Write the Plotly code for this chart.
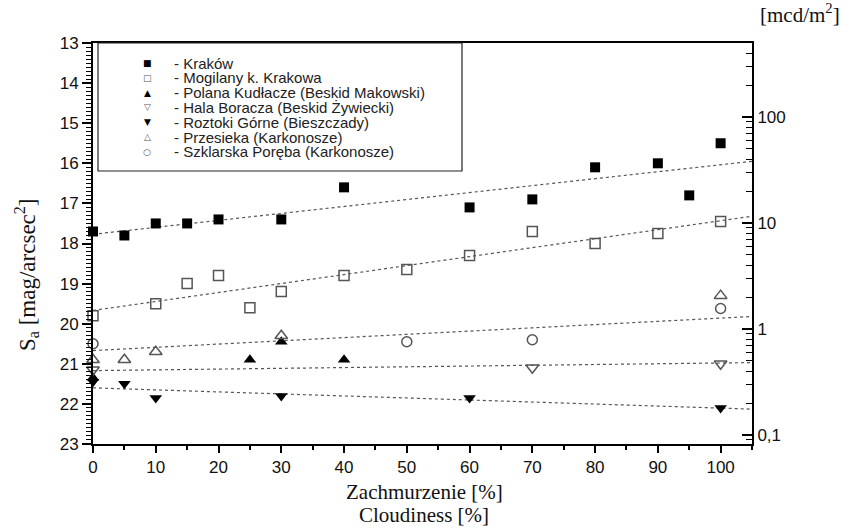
import plotly.graph_objects as go

# ---------------- data ----------------
krakow_x = [0, 5, 10, 15, 20, 30, 40, 60, 70, 80, 90, 95, 100]
krakow_y = [17.7, 17.8, 17.5, 17.5, 17.4, 17.4, 16.6, 17.1, 16.9, 16.1, 16.0, 16.8, 15.5]

mogilany_x = [0, 10, 15, 20, 25, 30, 40, 50, 60, 70, 80, 90, 100]
mogilany_y = [19.8, 19.5, 19.0, 18.8, 19.6, 19.2, 18.8, 18.65, 18.3, 17.7, 18.0, 17.75, 17.45]

polana_x = [0, 25, 30, 40]
polana_y = [21.35, 20.9, 20.45, 20.9]

hala_x = [0, 70, 100]
hala_y = [21.15, 21.1, 21.0]

roztoki_x = [0, 5, 10, 30, 60, 100]
roztoki_y = [21.45, 21.5, 21.85, 21.8, 21.85, 22.1]

przesieka_x = [0, 5, 10, 30, 100]
przesieka_y = [20.9, 20.9, 20.7, 20.3, 19.3]

szklarska_x = [0, 50, 70, 100]
szklarska_y = [20.5, 20.45, 20.4, 19.62]

# dotted trend lines: value at x = 0 and at x = 105
trend_x = [0, 105]
trend_krakow = [17.77, 15.95]
trend_mogilany = [19.67, 17.32]
trend_karkonosze = [20.67, 19.82]
trend_hala = [21.17, 20.97]
trend_roztoki = [21.6, 22.13]

legend_labels = [
    "- Kraków",
    "- Mogilany k. Krakowa",
    "- Polana Kudłacze (Beskid Makowski)",
    "- Hala Boracza (Beskid Żywiecki)",
    "- Roztoki Górne (Bieszczady)",
    "- Przesieka (Karkonosze)",
    "- Szklarska Poręba (Karkonosze)",
]
legend_glyphs = ["■", "□", "▲", "▽", "▼", "△", "○"]
legend_glyph_colors = ["#000", "#555", "#000", "#555", "#000", "#555", "#555"]

x_ticks = [0, 10, 20, 30, 40, 50, 60, 70, 80, 90, 100]
y_ticks = [13, 14, 15, 16, 17, 18, 19, 20, 21, 22, 23]
y2_ticks = [0.1, 1, 10, 100]
y2_ticktext = ["0,1", "1", "10", "100"]

# ---------------- figure ----------------
W, H = 846, 531
ML, MR, MT, MB = 93, 94, 43, 87
PW, PH = W - ML - MR, H - MT - MB

fig = go.Figure()

TREND = dict(color="#555", width=1.2, dash="dot")
for ty in [trend_krakow, trend_mogilany, trend_karkonosze, trend_hala, trend_roztoki]:
    fig.add_trace(go.Scatter(x=trend_x, y=ty, mode="lines", line=TREND,
                             showlegend=False, hoverinfo="skip"))

OPEN = "#555"
series = [
    (krakow_x, krakow_y, dict(symbol="square", size=10, color="#000",
                              line=dict(color="#000", width=0))),
    (mogilany_x, mogilany_y, dict(symbol="square-open", size=10, color=OPEN,
                                  line=dict(color=OPEN, width=1.5))),
    (polana_x, polana_y, dict(symbol="triangle-up", size=11, color="#000",
                              line=dict(width=0))),
    (hala_x, hala_y, dict(symbol="triangle-down-open", size=11, color=OPEN,
                          line=dict(color=OPEN, width=1.5))),
    (roztoki_x, roztoki_y, dict(symbol="triangle-down", size=11, color="#000",
                                line=dict(width=0))),
    (przesieka_x, przesieka_y, dict(symbol="triangle-up-open", size=11, color=OPEN,
                                    line=dict(color=OPEN, width=1.5))),
    (szklarska_x, szklarska_y, dict(symbol="circle-open", size=10, color=OPEN,
                                    line=dict(color=OPEN, width=1.5))),
]
for sx, sy, mk in series:
    fig.add_trace(go.Scatter(x=sx, y=sy, mode="markers", marker=mk,
                             showlegend=False, cliponaxis=False))

# invisible trace to activate right (luminance) axis
fig.add_trace(go.Scatter(x=[50], y=[1], yaxis="y2", mode="markers",
                         marker=dict(opacity=0), showlegend=False, hoverinfo="skip"))

TICKFONT = dict(family="Liberation Sans, Arial", size=17, color="#111")
SERIF = dict(family="Liberation Serif, Times New Roman", size=21, color="#111")

minor_log = [m * 10 ** e for e in range(-2, 3) for m in range(2, 10)]

fig.update_layout(
    width=W, height=H,
    margin=dict(l=ML, r=MR, t=MT, b=MB),
    paper_bgcolor="white", plot_bgcolor="white",
    showlegend=False,
    xaxis=dict(range=[0, 105], tickvals=x_ticks, ticks="outside", ticklen=7,
               tickwidth=1.5, tickcolor="#000", showgrid=False, zeroline=False,
               showline=True, linecolor="#000", linewidth=2, mirror=True,
               tickfont=TICKFONT,
               minor=dict(dtick=5, ticks="outside", ticklen=4, tickwidth=1.5,
                          tickcolor="#000")),
    yaxis=dict(range=[23, 13], tickvals=y_ticks, ticks="outside", ticklen=9,
               tickwidth=1.5, tickcolor="#000", showgrid=False, zeroline=False,
               showline=True, linecolor="#000", linewidth=2,
               tickfont=TICKFONT,
               minor=dict(dtick=0.1, ticks="outside", ticklen=5, tickwidth=1,
                          tickcolor="#000")),
    yaxis2=dict(type="log", overlaying="y", side="right",
                range=[-1.085, 2.698], tickmode="array", tickvals=y2_ticks,
                ticktext=y2_ticktext, ticks="inside", ticklen=10, tickwidth=1.5,
                tickcolor="#000", showgrid=False, zeroline=False,
                showline=True, linecolor="#000", linewidth=2,
                tickfont=TICKFONT,
                minor=dict(tickmode="array", tickvals=minor_log, ticks="inside",
                           ticklen=6, tickwidth=1.2, tickcolor="#000")),
)

def px_x(p):
    return (p - ML) / PW

def px_y(p):
    return 1 - (p - MT) / PH

# legend box
fig.add_shape(type="rect", xref="paper", yref="paper",
              x0=px_x(98), x1=px_x(462), y0=px_y(171), y1=px_y(43),
              line=dict(color="#222", width=1.2), fillcolor="rgba(0,0,0,0)")

row_top, row_step = 63, 14.8
for i, (g, c, lab) in enumerate(zip(legend_glyphs, legend_glyph_colors, legend_labels)):
    yy = px_y(row_top + i * row_step)
    fig.add_annotation(xref="paper", yref="paper", x=px_x(147), y=yy, text=g,
                       showarrow=False, xanchor="center", yanchor="middle",
                       font=dict(family="DejaVu Sans", size=9, color=c))
    fig.add_annotation(xref="paper", yref="paper", x=px_x(172), y=yy, text=lab,
                       showarrow=False, xanchor="left", yanchor="middle",
                       font=dict(family="Liberation Sans, Arial", size=15, color="#222"))

# y-axis title
fig.add_annotation(xref="paper", yref="paper", x=px_x(26), y=px_y(275),
                   text="S<sub>a</sub> [mag/arcsec<sup>2</sup>]", textangle=-90,
                   showarrow=False, xanchor="center", yanchor="middle",
                   font=dict(family="Liberation Serif, Times New Roman", size=23, color="#111"))

# x-axis titles (two languages)
fig.add_annotation(xref="paper", yref="paper", x=px_x(424), y=px_y(492), text="Zachmurzenie [%]",
                   showarrow=False, xanchor="center", yanchor="middle", font=SERIF)
fig.add_annotation(xref="paper", yref="paper", x=px_x(424), y=px_y(515), text="Cloudiness [%]",
                   showarrow=False, xanchor="center", yanchor="middle", font=SERIF)
# right axis unit
fig.add_annotation(xref="paper", yref="paper", x=px_x(800), y=px_y(14),
                   text="[mcd/m<sup>2</sup>]", showarrow=False,
                   xanchor="center", yanchor="middle", font=SERIF)

fig.write_html("out.html")
